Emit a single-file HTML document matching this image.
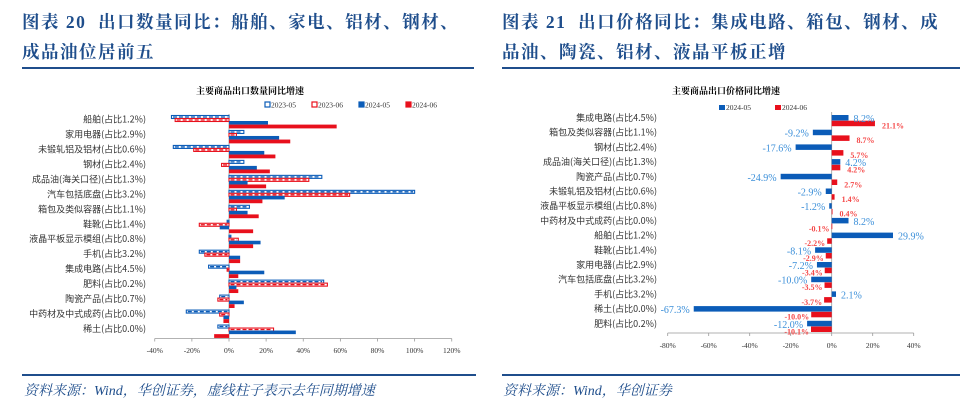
<!DOCTYPE html>
<html><head><meta charset="utf-8"><style>
body{margin:0;width:960px;height:414px;background:#fff;overflow:hidden;font-family:"Liberation Serif","Noto Serif CJK SC",serif;}
.t{position:absolute;color:#1f4e8c;font-weight:bold;font-size:17.5px;font-family:"Liberation Serif","Noto Serif CJK SC",serif;letter-spacing:1.5px;line-height:30px}
.src{position:absolute;top:380px;color:#1f4e8c;font-style:italic;font-size:14px;font-family:"Liberation Serif","Noto Serif CJK SC",serif}
.hr{position:absolute;height:2px;background:#1f4e8c}
</style></head><body>
<div class="t" style="left:22px;top:7px;width:460px">图表 20&nbsp;&nbsp;出口数量同比：船舶、家电、铝材、钢材、<br>成品油位居前五</div>
<div class="t" style="left:502px;top:7px;width:460px">图表 21&nbsp;&nbsp;出口价格同比：集成电路、箱包、钢材、成<br>品油、陶瓷、铝材、液晶平板正增</div>
<div class="hr" style="left:22px;top:67px;width:452px"></div>
<div class="hr" style="left:502px;top:67px;width:458px"></div>
<div class="hr" style="left:22px;top:374px;width:454px"></div>
<div class="hr" style="left:502px;top:374px;width:458px"></div>
<div class="src" style="left:24px">资料来源：Wind，华创证券，虚线柱子表示去年同期增速</div>
<div class="src" style="left:503px">资料来源：Wind，华创证券</div>
<svg id="s" width="960" height="414" style="position:absolute;left:0;top:0" font-family="Liberation Serif, Noto Serif CJK SC, serif"></svg>
<script>
const leftCats=["船舶(占比1.2%)","家用电器(占比2.9%)","未锻轧铝及铝材(占比0.6%)","钢材(占比2.4%)","成品油(海关口径)(占比1.3%)","汽车包括底盘(占比3.2%)","箱包及类似容器(占比1.1%)","鞋靴(占比1.4%)","液晶平板显示模组(占比0.8%)","手机(占比3.2%)","集成电路(占比4.5%)","肥料(占比0.2%)","陶瓷产品(占比0.7%)","中药材及中式成药(占比0.0%)","稀土(占比0.0%)"];
const q2305=[-31,8,-30,8,50,100,11,-1,1,-16,-11,51,-5,-23,-6];
const q2306=[-29,4,-19,-4,43,65,4,-16,5,-13,-1,53,-6,-5,24];
const q2405=[21,27,19,15,10,30,10,-5,17,6,19,4,8,-3,36];
const q2406=[58,33,25,22,20,18,16,13,13,6,5,5,3,-3,-8];
const leftTicks=[-40,-20,0,20,40,60,80,100,120];
const rightCats=["集成电路(占比4.5%)","箱包及类似容器(占比1.1%)","钢材(占比2.4%)","成品油(海关口径)(占比1.3%)","陶瓷产品(占比0.7%)","未锻轧铝及铝材(占比0.6%)","液晶平板显示模组(占比0.8%)","中药材及中式成药(占比0.0%)","船舶(占比1.2%)","鞋靴(占比1.4%)","家用电器(占比2.9%)","汽车包括底盘(占比3.2%)","手机(占比3.2%)","稀土(占比0.0%)","肥料(占比0.2%)"];
const p2405=[8.2,-9.2,-17.6,4.2,-24.9,-2.9,-1.2,8.2,29.9,-8.1,-7.2,-10.0,2.1,-67.3,-12.0];
const p2406=[21.1,8.7,5.7,4.2,2.7,1.4,0.4,-0.1,-2.2,-2.9,-3.4,-3.5,-3.7,-10.0,-10.1];
const rightTicks=[-80,-60,-40,-20,0,20,40];
const S=document.getElementById('s');const NS='http://www.w3.org/2000/svg';
const CATF='Noto Sans CJK SC, sans-serif';
function mk(tag,a,txt){const e=document.createElementNS(NS,tag);for(const k in a)e.setAttribute(k,a[k]);if(txt!==undefined)e.textContent=txt;S.appendChild(e);return e;}
const BL='#0b5cb8',RD='#e8101c';
const lx=v=>229+(v)*(297/160);const lTop=114,lBand=224.5/15;
let e;
e=mk('text',{x:250,y:94,'text-anchor':'middle','font-size':'9','font-weight':'bold',fill:'#000'},'主要商品出口数量同比增速');


const lLeg=[["2023-05",BL,true],["2023-06",RD,true],["2024-05",BL,false],["2024-06",RD,false]];
lLeg.forEach((l,i)=>{const x=265+i*47;
 e=mk('rect',{x:x,y:102,width:5,height:5,fill:l[2]?'#fff':l[1],stroke:l[1],'stroke-width':1.2});
 
 
 e=mk('text',{x:x+6,y:107.5,'font-size':'7.5',fill:'#333'},l[0]);
 
 });
e=mk('line',{x1:lx(0),y1:lTop,x2:lx(0),y2:338.5,stroke:'#999','stroke-width':0.8});


e=mk('line',{x1:lx(-40),y1:338.5,x2:lx(120),y2:338.5,stroke:'#999','stroke-width':0.8});


leftTicks.forEach(t=>{e=mk('line',{x1:lx(t),y1:338.5,x2:lx(t),y2:341.5,stroke:'#999','stroke-width':0.8});
 
 
 e=mk('text',{x:lx(t),y:353,'text-anchor':'middle','font-size':'7.5',fill:'#333'},t+'%');
 
 });
function lbar(v,y,h,col,dash,name){const x0=Math.min(lx(0),lx(v)),w=Math.abs(lx(v)-lx(0));
 if(dash){e=mk('rect',{x:x0,y:y,width:w,height:h,fill:'#fff',stroke:col,'stroke-width':1.1});
  
  
  e=mk('line',{x1:x0+1.5,y1:y+h/2,x2:x0+w-1.5,y2:y+h/2,stroke:col,'stroke-width':1.3,'stroke-dasharray':'4 2'});
  
  }
 else{e=mk('rect',{x:x0,y:y,width:w,height:h,fill:col});
  
  }}
leftCats.forEach((c,i)=>{const t=lTop+i*lBand;
 e=mk('text',{x:146,y:t+8.5,'text-anchor':'end','font-size':'9','font-family':CATF,fill:'#333'},c);
 
 
 lbar(q2305[i],t+1.5,3,BL,true,'bar-2023-05');
 lbar(q2306[i],t+4.5,3,RD,true,'bar-2023-06');
 lbar(q2405[i],t+7,3.6,BL,false,'bar-2024-05');
 lbar(q2406[i],t+10.6,3.8,RD,false,'bar-2024-06');});
const rx=v=>831.7+v*2.05;const rTop=112,rBand=14.7;
e=mk('text',{x:726,y:94,'text-anchor':'middle','font-size':'9','font-weight':'bold',fill:'#000'},'主要商品出口价格同比增速');


[["2024-05",BL],["2024-06",RD]].forEach((l,i)=>{const x=719+i*56;
 e=mk('rect',{x:x,y:105,width:6,height:5,fill:l[1]});
 
 
 e=mk('text',{x:x+7,y:110,'font-size':'7.5',fill:'#333'},l[0]);
 
 });
e=mk('line',{x1:rx(0),y1:rTop,x2:rx(0),y2:333,stroke:'#999','stroke-width':0.8});


e=mk('line',{x1:rx(-80),y1:333,x2:rx(40),y2:333,stroke:'#999','stroke-width':0.8});


rightTicks.forEach(t=>{e=mk('line',{x1:rx(t),y1:333,x2:rx(t),y2:336,stroke:'#999','stroke-width':0.8});
 
 
 e=mk('text',{x:rx(t),y:348,'text-anchor':'middle','font-size':'7.5',fill:'#333'},t+'%');
 
 });
rightCats.forEach((c,i)=>{const t=rTop+i*rBand;
 e=mk('text',{x:657,y:t+9,'text-anchor':'end','font-size':'9','font-family':CATF,fill:'#333'},c);
 
 
 const b=p2405[i],r=p2406[i];
 e=mk('rect',{x:Math.min(rx(0),rx(b)),y:t+3,width:Math.abs(rx(b)-rx(0)),height:5.5,fill:BL});
 
 
 e=mk('rect',{x:Math.min(rx(0),rx(r)),y:t+8.7,width:Math.max(0.8,Math.abs(rx(r)-rx(0))),height:5.5,fill:RD});
 
 
 e=mk('text',{x:b>=0?rx(b)+5:rx(b)-4,y:t+10,'text-anchor':b>=0?'start':'end','font-size':'10',fill:'#3b8fd9'},b.toFixed(1)+'%');
 
 
 e=mk('text',{x:r>=0?rx(r)+7:rx(r)-2,y:t+16.5,'text-anchor':r>=0?'start':'end','font-size':'8','font-weight':'bold',fill:'#f54848'},r.toFixed(1)+'%');
 
 });
</script>
</body></html>
